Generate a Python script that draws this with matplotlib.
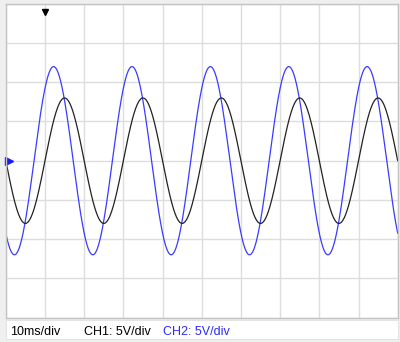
import numpy as np
import matplotlib
matplotlib.use("Agg")
import matplotlib.pyplot as plt

freq_hz = 50.0
ch1_amp_v = 8.0        # pico CH1
ch2_amp_v = 12.0       # pico CH2
ch2_lead_ms = 2.8      # adelanto de CH2 respecto a CH1
trigger_ms = 10.0      # disparo en flanco de subida de CH1
time_div_ms = 10
volt_div = 5
n_div_x = 10
n_div_y = 8
etiquetas = ["10ms/div", "CH1: 5V/div", "CH2: 5V/div"]

fig = plt.figure(figsize=(4, 3.42), dpi=100, facecolor="#efefef")
ax = fig.add_axes([5.8/400, 1-317.5/342, (397.7-5.8)/400, (317.5-3.9)/342])
ax.set_facecolor("white")

t = np.linspace(0, n_div_x*time_div_ms, 2000)
ch1 = ch1_amp_v*np.sin(2*np.pi*freq_hz*(t-trigger_ms)/1000)
ch2 = ch2_amp_v*np.sin(2*np.pi*freq_hz*(t-trigger_ms+ch2_lead_ms)/1000)

ax.plot(t, ch2, color="#3b3bff", lw=0.9)
ax.plot(t, ch1, color="#222222", lw=0.9)

ax.set_xlim(0, n_div_x*time_div_ms)
ax.set_ylim(-n_div_y/2*volt_div, n_div_y/2*volt_div)
ax.set_xticks(np.arange(0, n_div_x*time_div_ms+1, time_div_ms))
ax.set_yticks(np.arange(-n_div_y/2*volt_div, n_div_y/2*volt_div+1, volt_div))
ax.grid(True, color="#dddddd", lw=1)
ax.tick_params(length=0, labelbottom=False, labelleft=False)
for s in ax.spines.values():
	s.set_color("#c4c4c4")
	s.set_linewidth(1)

# marcadores de disparo y nivel de tierra
ax.plot([trigger_ms], [19.0], marker="v", color="black", ms=5, clip_on=False)
ax.plot([0.9], [0], marker=">", color="#1a1aff", ms=6, clip_on=False)

# barra inferior
fax = fig.add_axes([5.8/400, 1-339/342, (397.7-5.8)/400, (339-319.5)/342])
fax.set_facecolor("white")
fax.set_xticks([])
fax.set_yticks([])
for s in fax.spines.values():
	s.set_color("#e4e4e4")
fs = 9
fam = ["Liberation Sans", "DejaVu Sans"]
fax.text(4/391, 0.38, etiquetas[0], transform=fax.transAxes, va="center", fontsize=fs, family=fam, color="black")
fax.text(78/391, 0.38, etiquetas[1], transform=fax.transAxes, va="center", fontsize=fs, family=fam, color="black")
fax.text(157/391, 0.38, etiquetas[2], transform=fax.transAxes, va="center", fontsize=fs, family=fam, color="#2a2aff")

fig.savefig("out.png", dpi=100, facecolor=fig.get_facecolor())
